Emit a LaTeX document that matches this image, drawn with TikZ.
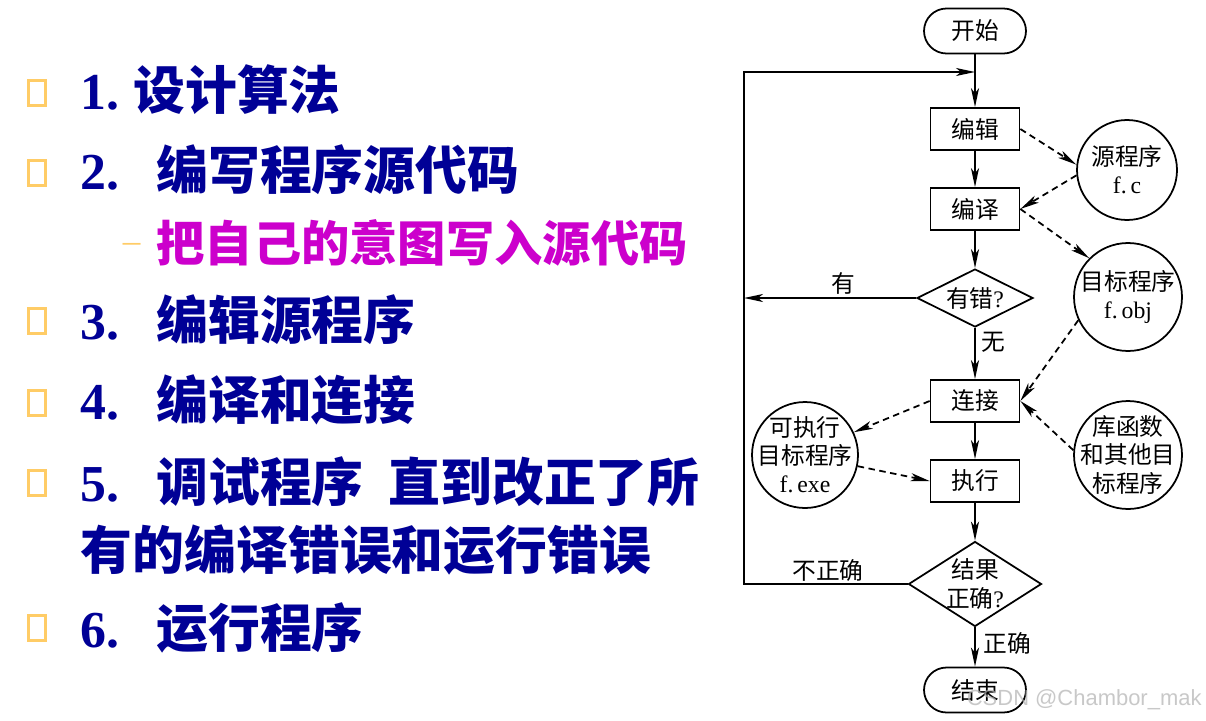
\documentclass[tikz,border=0pt]{standalone}
\usepackage{fontspec}
\setmainfont{Liberation Serif}
\setsansfont{Liberation Sans}
\newfontfamily\cjk{Noto Sans CJK SC}
\usetikzlibrary{shapes.geometric,arrows.meta}
\definecolor{itemblue}{RGB}{0,0,150}
\definecolor{subpink}{RGB}{204,0,204}
\definecolor{boxorange}{RGB}{255,204,102}
\newcommand{\numbox}[2]{\makebox[#1][l]{\rmfamily\bfseries #2}}

\begin{document}
\begin{tikzpicture}[x=0.02cm, y=-0.02cm, line width=1pt,
  every node/.style={font=\cjk\fontsize{13.5}{16}\selectfont},
  item/.style={anchor=west, inner sep=0pt, text=itemblue, font=\cjk\bfseries\fontsize{29.5}{34}\selectfont},
  bulletbox/.style={draw=boxorange, line width=0.7mm, minimum width=3.4mm, minimum height=5mm, inner sep=0pt},
  term/.style={draw, rounded corners=4.5mm, minimum width=20.4mm, minimum height=9mm},
  proc/.style={draw, minimum width=17.8mm, minimum height=8.4mm},
  decide/.style={draw, diamond, aspect=2, inner sep=0pt},
  store/.style={draw, circle, align=center, inner sep=-3mm},
  arr/.style={-{Stealth[length=3.8mm, width=1.6mm, inset=1mm]}},
  darr/.style={arr, dash pattern=on 1.3mm off 0.9mm}]
  \useasboundingbox (0,0) rectangle (1206,720);
  \fill[white] (0,0) rectangle (1206,720);

  \node[bulletbox] (b1) at (37,93) {};
  \node[item] (t1) at (80,90) {\numbox{1.05cm}{1.}设计算法};
  \node[bulletbox] (b2) at (37,173) {};
  \node[item] (t2) at (80,170) {\numbox{1.51cm}{2.}编写程序源代码};
  \node[item, text=subpink, font=\cjk\bfseries\fontsize{27.5}{32}\selectfont] (t2a) at (122,243)
    {\makebox[0.67cm][l]{\raisebox{5pt}{\color{boxorange}\rmfamily\mdseries\fontsize{20}{20}\selectfont –}}把自己的意图写入源代码};
  \node[bulletbox] (b3) at (37,321) {};
  \node[item] (t3) at (80,320) {\numbox{1.51cm}{3.}编辑源程序};
  \node[bulletbox] (b4) at (37,403) {};
  \node[item] (t4) at (80,400) {\numbox{1.51cm}{4.}编译和连接};
  \node[bulletbox] (b5) at (37,483) {};
  \node[item] (t5) at (80,482) {\numbox{1.51cm}{5.}调试程序\hspace{0.5cm}直到改正了所};
  \node[item] (t5b) at (80,550) {有的编译错误和运行错误};
  \node[bulletbox] (b6) at (37,628) {};
  \node[item] (t6) at (80,628) {\numbox{1.51cm}{6.}运行程序};

  \node[term] (start) at (975,31) {开始};
  \node[proc] (bianji) at (975,129) {编辑};
  \node[proc] (bianyi) at (975,209) {编译};
  \node[decide, minimum width=23.2mm, minimum height=11.6mm] (youcuo) at (975,298) {有错{\rmfamily ?}};
  \node[proc] (lianjie) at (975,401) {连接};
  \node[proc] (zhixing) at (975,481) {执行};
  \node[decide, aspect=1.5, inner sep=-3mm, minimum width=26.6mm, minimum height=17mm, align=center] (jieguo) at (975,584) {结果\\正确{\rmfamily ?}};
  \node[term] (stop) at (975,690) {结束};

  \node[store, minimum size=20mm] (yuan) at (1127,170) {源程序\\{\rmfamily f.\,c}};
  \node[store, minimum size=21.6mm] (mubiao) at (1128,297) {目标程序\\{\rmfamily f.\,obj}};
  \node[store, minimum size=21.2mm] (kezx) at (805,455) {可执行\\目标程序\\{\rmfamily f.\,exe}};
  \node[store, minimum size=21.6mm] (ku) at (1128,455) {库函数\\和其他目\\标程序};

  \node (lyou) at (843,283) {有};
  \node (lwu) at (993,342) {无};
  \node (lbzq) at (828,570) {不正确};
  \node (lzq) at (1007,643) {正确};

  \coordinate (railtop) at (744,72);
  \coordinate (joint) at (975,72);

  \draw[arr] (start) -- (bianji);
  \draw[arr] (bianji) -- (bianyi);
  \draw[arr] (bianyi) -- (youcuo);
  \draw[arr] (youcuo) -- (lianjie);
  \draw[arr] (lianjie) -- (zhixing);
  \draw[arr] (zhixing) -- (jieguo);
  \draw[arr] (jieguo) -- (stop);
  \draw[arr] (youcuo.west) -- (youcuo.west -| railtop);
  \draw[arr] (jieguo.west) -- (jieguo.west -| railtop) -- (railtop) -- (joint);

  \draw[darr] (bianji.east) -- (yuan.174);
  \draw[darr] (yuan.186) -- (bianyi.east);
  \draw[darr] (bianyi.east) -- (mubiao.135);
  \draw[darr] (mubiao.205) -- (lianjie.east);
  \draw[darr] (ku.175) -- (lianjie.east);
  \draw[darr] (lianjie.west) -- (kezx.25);
  \draw[darr] (kezx.-12) -- (zhixing.west);

  \node[anchor=west, inner sep=0pt, font=\sffamily\fontsize{12.5}{15}\selectfont, text=gray!60, text opacity=0.7] (mark) at (966,700) {CSDN @Chambor\_mak};
\end{tikzpicture}
\end{document}
